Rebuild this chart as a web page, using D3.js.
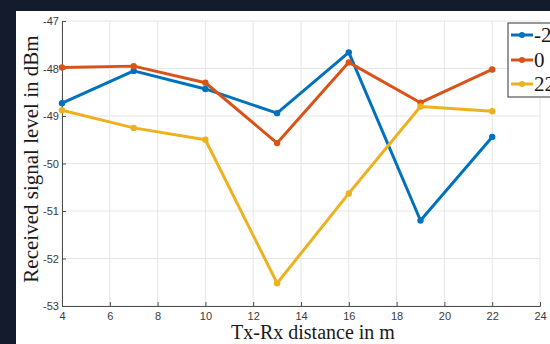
<!DOCTYPE html>
<html><head><meta charset="utf-8">
<script src="https://cdn.jsdelivr.net/npm/d3@7"></script>
<style>
html,body{margin:0;padding:0;background:#141b2d;overflow:hidden;}
svg{display:block;}
</style></head>
<body>
<svg id="chart" width="550" height="344"></svg>
<script>
const distances = [4, 7, 10, 13, 16, 19, 22];
const seriesNames = ["-22", "0", "22"];
const seriesNeg = [-48.73, -48.05, -48.43, -48.94, -47.66, -51.2, -49.44];
const seriesZero = [-47.98, -47.95, -48.3, -49.57, -47.87, -48.72, -48.02];
const seriesPos = [-48.88, -49.25, -49.5, -52.52, -50.63, -48.8, -48.9];
const xTicks = [4, 6, 8, 10, 12, 14, 16, 18, 20, 22, 24];
const yTicks = [-53, -52, -51, -50, -49, -48, -47];
const colors = ["#0072BD", "#D95319", "#EDB120"];

const svg = d3.select("#chart");
svg.append("rect").attr("x", 16).attr("y", 11).attr("width", 534).attr("height", 333).attr("fill", "#ffffff");

const x = d3.scaleLinear().domain([4, 24]).range([62, 540]);
const y = d3.scaleLinear().domain([-53, -47]).range([306, 21]);

// grid
svg.append("g").selectAll("line").data(xTicks).join("line")
  .attr("x1", d => x(d)).attr("x2", d => x(d)).attr("y1", y(-53)).attr("y2", y(-47))
  .attr("stroke", "#e6e6e6").attr("stroke-width", 1);
svg.append("g").selectAll("line").data(yTicks).join("line")
  .attr("x1", x(4)).attr("x2", x(24)).attr("y1", d => y(d)).attr("y2", d => y(d))
  .attr("stroke", "#e6e6e6").attr("stroke-width", 1);

const xAxis = svg.append("g").attr("transform", `translate(0,${y(-53)})`)
  .call(d3.axisBottom(x).tickValues(xTicks).tickSize(-4).tickPadding(6).tickFormat(d3.format("d")));
const yAxis = svg.append("g").attr("transform", `translate(${x(4)},0)`)
  .call(d3.axisLeft(y).tickValues(yTicks).tickSize(-4).tickPadding(3).tickFormat(d => d3.format("d")(d).replace("−", "-")));
[xAxis, yAxis].forEach(g => {
  g.select(".domain").attr("stroke", "#4d4d4d");
  g.selectAll(".tick line").attr("stroke", "#4d4d4d");
  g.selectAll(".tick text").attr("fill", "#3a3a3a").attr("font-family", "Liberation Sans, Arial, sans-serif").attr("font-size", 11);
});

const data = [seriesNeg, seriesZero, seriesPos];
const line = d3.line().x((d, i) => x(distances[i])).y(d => y(d));
data.forEach((s, k) => {
  const g = svg.append("g");
  g.append("path").datum(s).attr("d", line).attr("fill", "none")
    .attr("stroke", colors[k]).attr("stroke-width", 3).attr("stroke-linejoin", "round");
  g.selectAll("circle").data(s).join("circle")
    .attr("cx", (d, i) => x(distances[i])).attr("cy", d => y(d)).attr("r", 3.2).attr("fill", colors[k]);
});

// axis labels
svg.append("text").attr("x", 313).attr("y", 339).attr("text-anchor", "middle")
  .attr("font-family", "Liberation Serif, Times New Roman, serif").attr("font-size", 20).attr("fill", "#1a1a1a")
  .text("Tx-Rx distance in m");
svg.append("text").attr("transform", `translate(38,159) rotate(-90)`).attr("text-anchor", "middle")
  .attr("font-family", "Liberation Serif, Times New Roman, serif").attr("font-size", 21).attr("fill", "#1a1a1a")
  .text("Received signal level in dBm");

// legend
const lg = svg.append("g");
lg.append("rect").attr("x", 508).attr("y", 23).attr("width", 60).attr("height", 74)
  .attr("fill", "#ffffff").attr("stroke", "#333333").attr("stroke-width", 1);
const rowsY = [35, 60, 84];
seriesNames.forEach((n, k) => {
  lg.append("line").attr("x1", 511).attr("x2", 533).attr("y1", rowsY[k]).attr("y2", rowsY[k])
    .attr("stroke", colors[k]).attr("stroke-width", 3);
  lg.append("circle").attr("cx", 522).attr("cy", rowsY[k]).attr("r", 3).attr("fill", colors[k]);
  lg.append("text").attr("x", 534).attr("y", rowsY[k] + 7)
    .attr("font-family", "Liberation Serif, Times New Roman, serif").attr("font-size", 21).attr("fill", "#1a1a1a")
    .text(n);
});
</script>
</body></html>
